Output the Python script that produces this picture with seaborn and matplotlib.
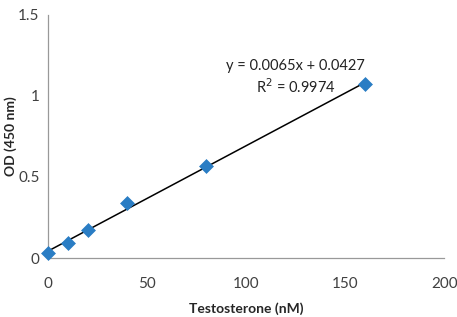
import matplotlib
matplotlib.use("Agg")
import matplotlib.pyplot as plt
import seaborn as sns
import numpy as np
import pandas as pd

conc = [0, 10, 20, 40, 80, 160]
od = [0.03, 0.09, 0.17, 0.34, 0.565, 1.075]
slope = 0.0065
intercept = 0.0427
eq_label = "y = 0.0065x + 0.0427"
r2_label = "R$^2$ = 0.9974"
xticks = [0, 50, 100, 150, 200]
yticks = [0, 0.5, 1, 1.5]
ytick_labels = ["0", "0.5", "1", "1.5"]

sns.set_style("white")
plt.rcParams['font.family'] = ['Lato', 'DejaVu Sans']

df = pd.DataFrame({"x": conc, "y": od})
fit_x = np.array([min(conc), max(conc)])
fit_df = pd.DataFrame({"x": fit_x, "y": slope * fit_x + intercept})

fig = plt.figure(figsize=(4.57, 3.17), dpi=100)
ax = fig.add_axes([0.105, 0.186, 0.867, 0.767])

sns.lineplot(data=fit_df, x="x", y="y", ax=ax, color="black", linewidth=1.1, zorder=2)
sns.scatterplot(data=df, x="x", y="y", ax=ax, marker="D", s=50, color="#2A7DC4",
                edgecolor="#2A7DC4", linewidth=0.5, zorder=3)

ax.set_xlim(0, 200)
ax.set_ylim(0, 1.5)
ax.set_xticks(xticks)
ax.set_yticks(yticks)
ax.set_yticklabels(ytick_labels)
ax.tick_params(axis="both", labelsize=11, colors="#404040", length=4, width=0.8,
               direction="out", color="#999999")
ax.tick_params(axis="x", pad=10)
ax.tick_params(axis="y", pad=2)
sns.despine(ax=ax)
for s in ["left", "bottom"]:
    ax.spines[s].set_color("#999999")
    ax.spines[s].set_linewidth(0.9)
for c in ax.collections:
    c.set_clip_on(False)

ax.set_xlabel("Testosterone (nM)", fontsize=10, fontweight="bold", labelpad=8)
ax.set_ylabel("OD (450 nm)", fontsize=10, fontweight="bold", va="center")
ax.yaxis.set_label_coords(-0.095, 0.5)

ax.text(125, 1.185, eq_label, fontsize=10.5, ha="center", va="center", color="#222222")
ax.text(125, 1.06, r2_label, fontsize=10.5, ha="center", va="center", color="#222222")

fig.savefig("out.png", dpi=100)
